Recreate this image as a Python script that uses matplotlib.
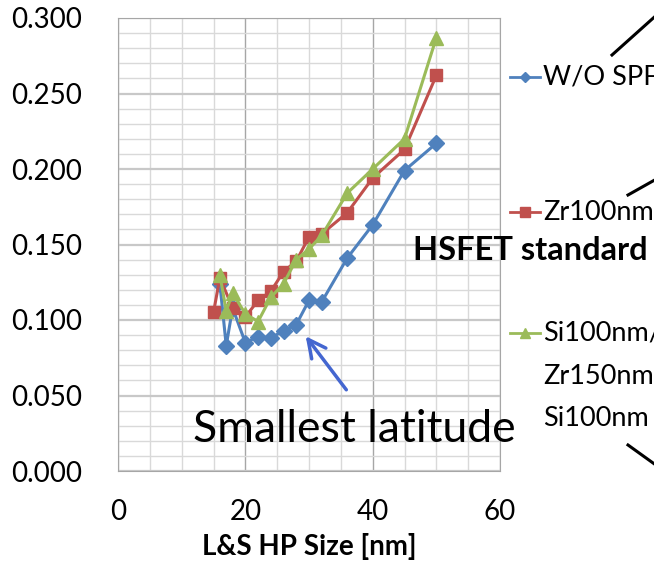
import matplotlib as mtp
mtp.use("Agg")
import matplotlib.pyplot as plt
from matplotlib.lines import Line2D
from matplotlib.ticker import MultipleLocator

plt.rcParams['font.family'] = ['Lato', 'DejaVu Sans']

# data
blue_x = [16, 17, 18, 20, 22, 24, 26, 28, 30, 32, 36, 40, 45, 50]
blue_y = [0.124, 0.083, 0.108, 0.085, 0.089, 0.088, 0.093, 0.097, 0.113, 0.112, 0.141, 0.163, 0.199, 0.217]
red_x = [15, 16, 18, 20, 22, 24, 26, 28, 30, 32, 36, 40, 45, 50]
red_y = [0.105, 0.128, 0.108, 0.102, 0.113, 0.119, 0.132, 0.139, 0.155, 0.157, 0.171, 0.194, 0.213, 0.262]
green_x = [16, 17, 18, 20, 22, 24, 26, 28, 30, 32, 36, 40, 45, 50]
green_y = [0.130, 0.106, 0.118, 0.104, 0.099, 0.115, 0.124, 0.140, 0.147, 0.156, 0.184, 0.200, 0.220, 0.287]
series_names = ['W/O SPF', 'Zr100nm', 'Si100nm/\nZr150nm/\nSi100nm']
x_ticks = [0, 20, 40, 60]
y_ticks = [0.0, 0.05, 0.10, 0.15, 0.20, 0.25, 0.30]

blue = '#4F81BD'
red = '#C0504D'
green = '#9BBB59'

W, H = 654, 569
fig = plt.figure(figsize=(W / 100, H / 100), dpi=100)
ax = fig.add_axes([118 / W, 1 - 471 / H, (500 - 118) / W, (471 - 18) / H])

ax.plot(blue_x, blue_y, color=blue, lw=2.2, marker='D', ms=8, zorder=3)
ax.plot(red_x, red_y, color=red, lw=2.2, marker='s', ms=9, zorder=4)
ax.plot(green_x, green_y, color=green, lw=2.2, marker='^', ms=10, zorder=5)

ax.set_xlim(0, 60)
ax.set_ylim(0, 0.3)
ax.set_xticks(x_ticks)
ax.set_yticks(y_ticks)
ax.set_yticklabels(['{:.3f}'.format(v) for v in y_ticks])
ax.xaxis.set_minor_locator(MultipleLocator(5))
ax.yaxis.set_minor_locator(MultipleLocator(0.01))
ax.grid(which='minor', color='#D9D9D9', lw=1)
ax.grid(which='major', axis='x', color='#A6A6A6', lw=1)
ax.grid(which='major', axis='y', color='#C8C8C8', lw=1.6)
ax.set_axisbelow(True)
ax.tick_params(which='both', length=0)
ax.tick_params(axis='y', labelsize=20, pad=26)
ax.tick_params(axis='x', labelsize=20, pad=20)
for s in ax.spines.values():
    s.set_color('#A6A6A6')
ax.set_xlabel('L&S HP Size [nm]', fontsize=20, fontweight='bold', labelpad=6)

# annotations
fig.text(193 / W, 1 - 442 / H, 'Smallest latitude', fontsize=32, ha='left', va='baseline')
ax.annotate('', xy=(304, H - 334), xycoords='figure pixels',
            xytext=(348, H - 392), textcoords='figure pixels',
            arrowprops=dict(arrowstyle='->', color='#4466D0', lw=2.5, mutation_scale=32))
fig.text(413 / W, 1 - 260 / H, 'HSFET standard', fontsize=23.5, fontweight='bold',
         ha='left', va='baseline')

# legend drawn by hand (entries are spaced unevenly)
leg_y = [77, 212, 333]
for c, m, ms, ly in zip([blue, red, green], ['D', 's', '^'], [5, 7, 7], leg_y):
    fig.add_artist(Line2D([510 / W, 540 / W], [1 - ly / H] * 2, color=c, lw=2))
    fig.add_artist(Line2D([525 / W], [1 - ly / H], color=c, marker=m, ms=ms, lw=0))
for name, ly in zip(series_names, leg_y):
    for i, part in enumerate(name.split('\n')):
        fig.text(543 / W, 1 - (ly + i * 43) / H, part, fontsize=19.5, ha='left', va='center')

# black connector lines coming from outside the picture
for (x0, y0), (x1, y1) in [((612, 55), (660, 12)), ((628, 195), (660, 177)), ((628, 445), (660, 468))]:
    fig.add_artist(Line2D([x0 / W, x1 / W], [1 - y0 / H, 1 - y1 / H], color='black', lw=2.2))

plt.savefig('out.png', dpi=100)
